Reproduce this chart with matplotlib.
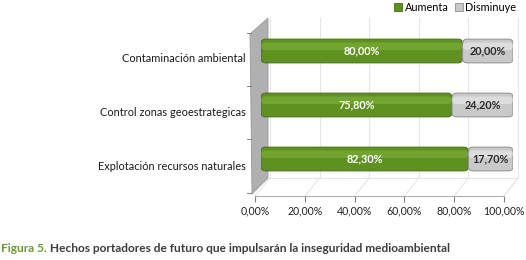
import matplotlib.pyplot as plt
from matplotlib.patches import Polygon, FancyBboxPatch, Patch

# data
categories = ['Contaminación ambiental', 'Control zonas geoestrategicas', 'Explotación recursos naturales']
aumenta = [80.0, 75.8, 82.3]
disminuye = [20.0, 24.2, 17.7]
series_names = ['Aumenta', 'Disminuye']
xticks = [0, 20, 40, 60, 80, 100]
caption_head = 'Figura 5.'
caption_body = ' Hechos portadores de futuro que impulsarán la inseguridad medioambiental'

green = '#5e9120'
green_hi = '#7fb43a'
grey = '#c9c9c9'
grey_hi = '#e6e6e6'

plt.rcParams['font.family'] = ['Lato', 'DejaVu Sans']

W, H = 526, 260
fig = plt.figure(figsize=(W / 100, H / 100), dpi=100)

# background axes in pixel units for the 3D frame
bg = fig.add_axes([0, 0, 1, 1])
bg.set_xlim(0, W)
bg.set_ylim(H, 0)
bg.axis('off')

# back wall grid lines
for k in range(6):
    xb = 270 + k * 49.6
    bg.plot([xb, xb], [18, 178], color='#e6e6e6', lw=0.8, zorder=0)
    xf = 255 + k * 49.8
    bg.plot([xf, xb], [196, 178], color='#e6e6e6', lw=0.8, zorder=0)
bg.plot([270, 518], [178, 178], color='#e6e6e6', lw=0.8, zorder=0)
bg.plot([518, 504], [178, 196], color='#e6e6e6', lw=0.8, zorder=0)

# left wall
bg.add_patch(Polygon([(250, 34), (268, 18), (268, 178), (252, 194)],
                     closed=True, facecolor='#b0b0b0', edgecolor='#9a9a9a', lw=0.6, zorder=1))
for yt in [33, 86, 139, 193]:
    bg.plot([247, 251], [yt, yt], color='#808080', lw=0.7, zorder=1)

# bars
ax = fig.add_axes([261 / W, 1 - 186 / H, 252 / W, 162 / H])
ax.set_xlim(0, 100)
ax.set_ylim(2.5, -0.5)
ax.axis('off')
ys = list(range(len(categories)))
bh = 0.44
b1 = ax.barh(ys, aumenta, height=bh, color=green, edgecolor='#466f15', lw=0.7)
b2 = ax.barh(ys, disminuye, left=aumenta, height=bh, color=grey, edgecolor='#8f8f8f', lw=0.7)
h1 = ax.barh([y - bh * 0.2 for y in ys], aumenta, height=bh * 0.32, color=green_hi, lw=0)
h2 = ax.barh([y - bh * 0.2 for y in ys], disminuye, left=aumenta, height=bh * 0.32, color=grey_hi, lw=0)

# replace the flat rectangles with rounded ones of the same size
r = 1.8
asp = (100 / 252) ** -1 / (3 / 162) ** -1
for container, z, alpha in [(b1, 2, 1), (b2, 2, 1), (h1, 3, 0.6), (h2, 3, 0.7)]:
    for p in container:
        x0, y0 = p.get_x(), p.get_y()
        fb = FancyBboxPatch((x0, y0), p.get_width(), p.get_height(),
                            boxstyle=f'round,pad=0,rounding_size={r}', mutation_aspect=asp,
                            facecolor=p.get_facecolor(), edgecolor=p.get_edgecolor(),
                            lw=p.get_linewidth(), alpha=alpha, zorder=z)
        ax.add_patch(fb)
        p.set_visible(False)

for y, a, d in zip(ys, aumenta, disminuye):
    ax.text(a / 2, y, f'{a:.2f}%'.replace('.', ','), color='white', fontsize=7.8,
            fontweight='bold', ha='center', va='center', zorder=4)
    ax.text(a + d / 2, y, f'{d:.2f}%'.replace('.', ','), color='#2a2a2a', fontsize=7.8,
            fontweight='bold', ha='center', va='center', zorder=4)
    ax.annotate(categories[y], xy=(0, y), xycoords=('axes fraction', 'data'),
                xytext=(-15, -7), textcoords='offset pixels', ha='right', va='center',
                fontsize=7.9, color='#1a1a1a')

# floor axis with tick labels
fx = fig.add_axes([255 / W, 1 - 196 / H, 249 / W, 0.001])
fx.set_xlim(0, 100)
fx.set_yticks([])
for s in ['top', 'left', 'right']:
    fx.spines[s].set_visible(False)
fx.spines['bottom'].set_color('#b0b0b0')
fx.set_xticks(xticks)
fx.set_xticklabels([f'{v:.2f}%'.replace('.', ',') for v in xticks], fontsize=7.6, color='#222222')
fx.tick_params(axis='x', length=4, color='#808080', pad=3)
fx.patch.set_visible(False)

# legend
handles = [Patch(facecolor=green, edgecolor='#466f15', lw=0.6),
           Patch(facecolor=grey, edgecolor='#8f8f8f', lw=0.6)]
fig.legend(handles, series_names, loc='upper right', bbox_to_anchor=(1.0, 1.03), ncol=2, frameon=False,
           fontsize=7.8, handlelength=0.7, handleheight=0.7, handletextpad=0.25, columnspacing=0.6)

# caption
t = fig.text(0.002, 1 - 248 / H, caption_head, color='#6a9a2c', fontsize=8.6, fontweight='bold',
             va='center')
fig.canvas.draw()
bb = t.get_window_extent()
fig.text(bb.x1 / W, 1 - 248 / H, caption_body, color='#3c3c3c', fontsize=8.6, fontweight='bold',
         va='center')

fig.savefig('out.png', dpi=100)
